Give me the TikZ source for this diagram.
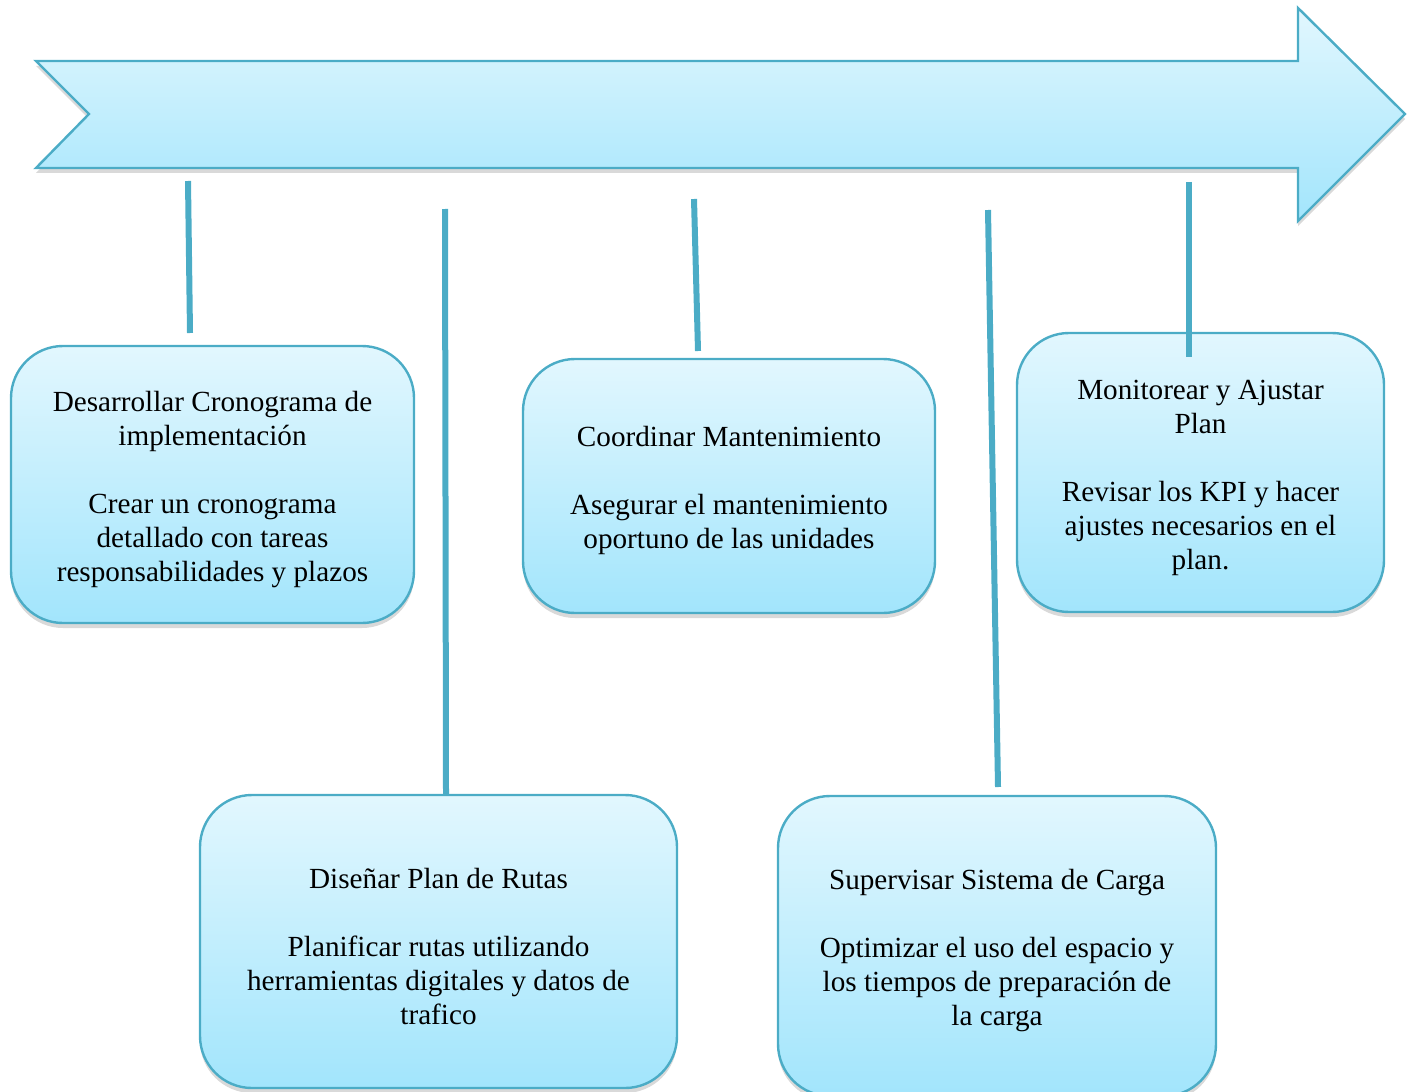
\documentclass[tikz,border=0pt]{standalone}
\usepackage{fontspec}
\setmainfont{Liberation Serif}
\usetikzlibrary{shadows}
\definecolor{aqua}{RGB}{75,172,198}
\definecolor{paletop}{RGB}{226,247,254}
\definecolor{palebot}{RGB}{162,229,252}
\newcommand\lead{\rule{0pt}{15pt}}
\begin{document}
\begin{tikzpicture}
    [
    x=0.5pt,y=-0.5pt,
    stage/.style={rectangle,rounded corners=26pt,draw=aqua,line width=1.2pt,top color=paletop,bottom color=palebot,align=center,inner sep=0pt,font=\fontsize{14.6}{17}\selectfont,drop shadow={shadow xshift=0pt,shadow yshift=-2.5pt,opacity=0.3}},
    link/.style={draw=aqua,line width=3pt}
    ]
    \useasboundingbox (0,0) rectangle (1416,1091);
    \path [draw=aqua,line width=1.2pt,top color=paletop,bottom color=palebot,drop shadow={shadow xshift=0pt,shadow yshift=-2.5pt,opacity=0.3}]
      (36,61) -- (1298,61) -- (1298,8) -- (1405,114) -- (1298,221) -- (1298,168) -- (36,168) -- (89,114) -- cycle;
    \node (1) at (212.5,484.5) [stage,minimum width=201.5pt,minimum height=138.5pt] {\lead Desarrollar Cronograma de\\ implementación\\[17pt] Crear un cronograma\\ detallado con tareas\\ responsabilidades y plazos};
    \node (2) at (438.5,941.5) [stage,minimum width=238.5pt,minimum height=146.5pt] {\lead Diseñar Plan de Rutas\\[17pt] Planificar rutas utilizando\\ herramientas digitales y datos de\\ trafico};
    \node (3) at (729,486) [stage,minimum width=206pt,minimum height=127pt] {\lead Coordinar Mantenimiento\\[17pt] Asegurar el mantenimiento\\ oportuno de las unidades};
    \node (4) at (997,946) [stage,minimum width=219pt,minimum height=150pt] {\lead Supervisar Sistema de Carga\\[17pt] Optimizar el uso del espacio y\\ los tiempos de preparación de\\ la carga};
    \node (5) at (1200.5,472.5) [stage,minimum width=183.5pt,minimum height=139.5pt] {\lead Monitorear y Ajustar\\ Plan\\[17pt] Revisar los KPI y hacer\\ ajustes necesarios en el\\ plan.};
    \coordinate (t1) at (188,181);
    \coordinate (t2) at (445,209);
    \coordinate (t3) at (694,199);
    \coordinate (t4) at (988,210);
    \coordinate (t5) at (1189,182);
    \draw [link] (t1) to (190,333);
    \draw [link] (t2) to (2.north -| 446,0);
    \draw [link] (t3) to (698,351);
    \draw [link] (t4) to (998,787);
    \draw [link] (t5) to (1189,357);
  \end{tikzpicture}
\end{document}
